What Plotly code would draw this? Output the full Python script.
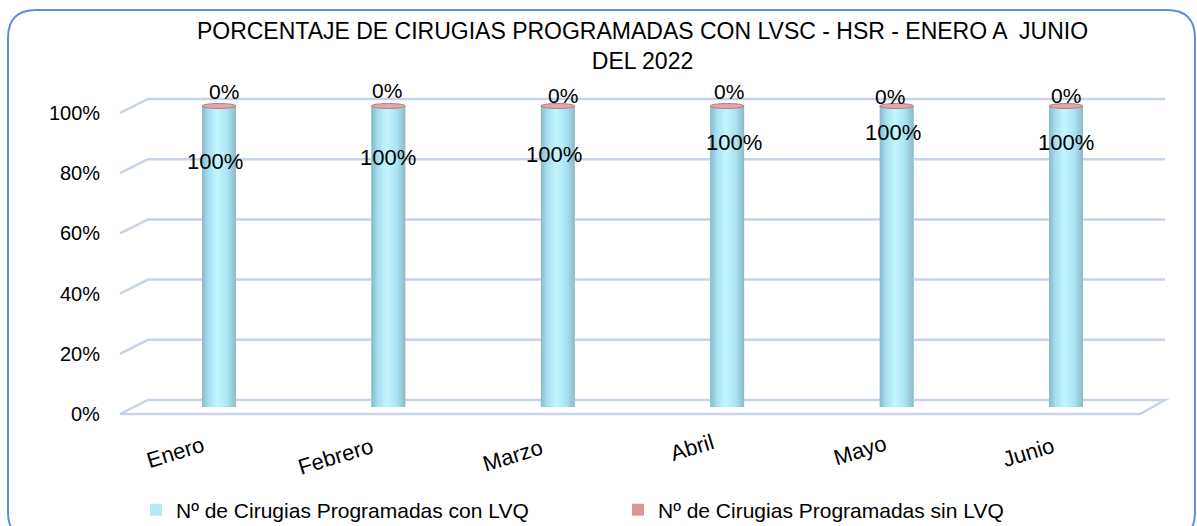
import plotly.graph_objects as go

# ---- data -------------------------------------------------------------
MESES = ["Enero", "Febrero", "Marzo", "Abril", "Mayo", "Junio"]
CON_LVQ = [1.0, 1.0, 1.0, 1.0, 1.0, 1.0]   # share of surgeries with LVQ
SIN_LVQ = [0.0, 0.0, 0.0, 0.0, 0.0, 0.0]   # share of surgeries without LVQ
TICKS = [0.0, 0.2, 0.4, 0.6, 0.8, 1.0]
SERIES = ["Nº de Cirugias Programadas con LVQ", "Nº de Cirugias Programadas sin LVQ"]
TITLE = "PORCENTAJE DE CIRUGIAS PROGRAMADAS CON LVSC - HSR - ENERO A \u00a0JUNIO<br>DEL 2022"

# ---- geometry / style -------------------------------------------------
W, H = 1197, 526
L, R, T, B = 120, 1165, 80, 420          # plot area in px
ZERO_PX, PX_PER_UNIT = 407, 301          # y scale of the bars
FIRST_PX, PITCH_PX = 219, 169.4          # x scale of the categories
BAR_W = 0.2
DEPTH = 7.0 / PX_PER_UNIT                # half depth of the 3D floor/walls
FONT = "Arial, Liberation Sans, sans-serif"
GRID = "#c6d3ea"

# per-label nudges (px) of the data and category labels
LBL_MAIN = [(-4, -55), (0, -51), (-4, -48), (7, -36), (-4, -26), (0, -36)]
LBL_TOP = [(5, 15), (-1, 16), (5, 11), (2, 15), (-7, 10), (0, 11)]
LBL_CAT = [(-44, -45), (-53, -49), (-45, -48), (-35, -40), (-37, -43), (-38, -45)]

x = list(range(len(MESES)))
x0 = -(FIRST_PX - L) / PITCH_PX
xr = [x0, x0 + (R - L) / PITCH_PX]
yr = [(ZERO_PX - B) / PX_PER_UNIT, (ZERO_PX - T) / PX_PER_UNIT]


def px_x(px):
    return (px - L) / (R - L)


def px_y(py):
    return (B - py) / (B - T)


fig = go.Figure()

fig.add_trace(go.Bar(x=x, y=CON_LVQ, name=SERIES[0], width=BAR_W,
                     marker=dict(color="#b2eaf6", line=dict(width=0))))
fig.add_trace(go.Bar(x=x, y=SIN_LVQ, name=SERIES[1], width=BAR_W,
                     marker=dict(color="#d99694", line=dict(width=0))))

# cylinder shading over each bar
shade = [[0.0, "#84b9c8"], [0.18, "#a5def0"], [0.45, "#c3f6fe"],
         [0.75, "#a9e4f2"], [1.0, "#8db9c6"]]
for i, v in zip(x, CON_LVQ):
    fig.add_trace(go.Scatter(
        x=[i - BAR_W / 2, i + BAR_W / 2, i + BAR_W / 2, i - BAR_W / 2, i - BAR_W / 2],
        y=[0, 0, v, v, 0], mode="lines", fill="toself", line=dict(width=0),
        fillgradient=dict(type="horizontal", colorscale=shade),
        showlegend=False, hoverinfo="skip"))

shapes = []
# 3D walls: gridlines with slanted side segment
for v in TICKS:
    xf, xb, xe = px_x(120), px_x(148), px_x(1165)
    if v == 0:
        path = (f"M{xf},{v - DEPTH} L{xb},{v + DEPTH} L{xe},{v + DEPTH} "
                f"L{px_x(1140)},{v - DEPTH} Z")
    else:
        path = f"M{xf},{v - DEPTH} L{xb},{v + DEPTH} L{xe},{v + DEPTH}"
    shapes.append(dict(type="path", xref="paper", yref="y", path=path,
                       line=dict(color=GRID, width=2.5), layer="below"))

# top caps of the stacked cylinders
for i, a, b in zip(x, CON_LVQ, SIN_LVQ):
    top = a + b
    shapes.append(dict(type="circle", xref="x", yref="y",
                       x0=i - BAR_W / 2, x1=i + BAR_W / 2,
                       y0=top - 2.5 / PX_PER_UNIT, y1=top + 2.5 / PX_PER_UNIT,
                       fillcolor="#dcaaa8", line=dict(color="#c07a78", width=1),
                       layer="above"))

# rounded chart border
bl, br, bt, bb, r = 8, 1195, 10, 540, 28
border = (f"M{px_x(bl)},{px_y(bt + r)} Q{px_x(bl)},{px_y(bt)} {px_x(bl + r)},{px_y(bt)} "
          f"L{px_x(br - r)},{px_y(bt)} Q{px_x(br)},{px_y(bt)} {px_x(br)},{px_y(bt + r)} "
          f"L{px_x(br)},{px_y(bb - r)} Q{px_x(br)},{px_y(bb)} {px_x(br - r)},{px_y(bb)} "
          f"L{px_x(bl + r)},{px_y(bb)} Q{px_x(bl)},{px_y(bb)} {px_x(bl)},{px_y(bb - r)} Z")
shapes.append(dict(type="path", xref="paper", yref="paper", path=border,
                   line=dict(color="#5b8fd8", width=2), layer="below"))

ann = []
# y tick labels on the front edge
for v in TICKS:
    ann.append(dict(xref="paper", yref="y", x=px_x(102), y=v - DEPTH,
                    text=f"{v:.0%}", showarrow=False, xanchor="right",
                    yanchor="middle", font=dict(size=20, color="#000")))
# data labels
for i, a, b, (dx, dy), (tx, ty) in zip(x, CON_LVQ, SIN_LVQ, LBL_MAIN, LBL_TOP):
    ann.append(dict(x=i, y=a, text=f"{a:.0%}", showarrow=False,
                    xshift=dx, yshift=dy, font=dict(size=22, color="#000")))
    ann.append(dict(x=i, y=a + b, text=f"{b:.0%}", showarrow=False,
                    xshift=tx, yshift=ty, font=dict(size=21, color="#000")))
# category labels
for i, m, (dx, dy) in zip(x, MESES, LBL_CAT):
    ann.append(dict(x=i, y=0, text=m, showarrow=False, textangle=-17,
                    xshift=dx, yshift=dy, font=dict(size=22, color="#000")))

fig.update_layout(
    width=W, height=H,
    margin=dict(l=L, r=W - R, t=T, b=H - B, autoexpand=False),
    paper_bgcolor="white", plot_bgcolor="white",
    barmode="stack",
    font=dict(family=FONT, color="#000"),
    title=dict(text=TITLE, x=0.5, xref="paper", xanchor="center",
               y=1 - 39 / H, yref="container", yanchor="middle",
               font=dict(size=23, color="#000")),
    xaxis=dict(range=xr, visible=False, fixedrange=True),
    yaxis=dict(range=yr, visible=False, fixedrange=True),
    shapes=shapes, annotations=ann,
    legend=dict(orientation="h", x=px_x(136), xanchor="left",
                y=px_y(510), yanchor="middle", entrywidth=437,
                font=dict(size=21, color="#000"), bgcolor="rgba(0,0,0,0)",
                traceorder="normal"),
    showlegend=True,
)

fig.write_html("out.html")
